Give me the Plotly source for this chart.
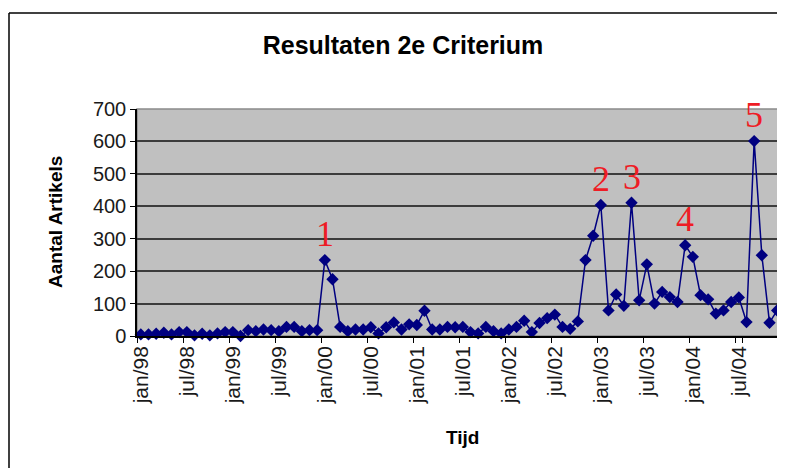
import plotly.graph_objects as go

# ---- data ----
months = ["jan", "feb", "mrt", "apr", "mei", "jun", "jul", "aug", "sep", "okt", "nov", "dec"]
years = ["98", "99", "00", "01", "02", "03", "04"]
categories = [f"{m}/{y}" for y in years for m in months]

values = [
    5, 5, 7, 10, 5, 12, 12, 2, 7, 2, 8, 12,            # 1998
    12, 0, 18, 15, 20, 18, 15, 28, 28, 15, 18, 18,     # 1999
    234, 175, 28, 15, 20, 20, 27, 8, 27, 42, 20, 36,   # 2000
    34, 78, 20, 20, 28, 27, 28, 12, 8, 28, 15, 8,      # 2001
    20, 28, 47, 12, 40, 55, 66, 28, 22, 45, 234, 309,  # 2002
    404, 79, 128, 93, 411, 110, 221, 100, 136, 120, 105, 280,  # 2003
    244, 126, 113, 69, 79, 105, 119, 43, 601, 249, 41, 79,     # 2004
]

tick_labels = [c for c in categories if c.startswith(("jan/", "jul/"))]

peak_labels = ["1", "2", "3", "4", "5"]
peak_months = ["jan/00", "jan/03", "mei/03", "dec/03", "sep/04"]
peak_values = [values[categories.index(m)] for m in peak_months]

title_text = "Resultaten 2e Criterium"
x_title = "Tijd"
y_title = "Aantal Artikels"

# ---- figure ----
OFF = 8                      # page body margin in the browser
W, H = 785 - OFF, 468 - OFF
L, R, T, B = 129, 4, 101, 132
pw, ph = W - L - R, H - T - B

def px_x(px):
    return (px - OFF - L) / pw

def px_y(py):
    return (H - B - (py - OFF)) / ph

fig = go.Figure()
fig.add_trace(go.Scatter(
    x=categories, y=values, mode="lines+markers",
    line=dict(color="#000080", width=1.5),
    marker=dict(symbol="diamond", size=9.5, color="#000080"),
    hoverinfo="x+y", cliponaxis=False,
))

annotations = []
for lab, m, v in zip(peak_labels, peak_months, peak_values):
    annotations.append(dict(
        x=m, y=v, xref="x", yref="y", text=lab, showarrow=False,
        yanchor="bottom", xanchor="center", yshift=4,
        font=dict(family="Liberation Serif, Times New Roman, serif", size=36, color="#ee1c25"),
    ))

annotations.append(dict(
    x=px_x(55), y=px_y(222), xref="paper", yref="paper", text=y_title,
    showarrow=False, textangle=-90, xanchor="center", yanchor="middle",
    font=dict(family="Liberation Sans, Arial, sans-serif", size=19, color="#000000", weight="bold"),
))
annotations.append(dict(
    x=px_x(462), y=px_y(437), xref="paper", yref="paper", text=x_title,
    showarrow=False, xanchor="center", yanchor="middle",
    font=dict(family="Liberation Sans, Arial, sans-serif", size=19, color="#000000", weight="bold"),
))

border = dict(color="#000000", width=1.5)
shapes = [
    # outer chart border: top and left edges (others fall outside the picture)
    dict(type="line", xref="paper", yref="paper",
         x0=px_x(9), x1=px_x(1000), y0=px_y(13), y1=px_y(13), line=border, layer="below"),
    dict(type="line", xref="paper", yref="paper",
         x0=px_x(9), x1=px_x(9), y0=px_y(13), y1=px_y(600), line=border, layer="below"),
    # plot-area frame
    dict(type="rect", xref="paper", yref="paper", x0=0, x1=1, y0=0, y1=1,
         line=dict(color="#8a8a8a", width=1.5), fillcolor="rgba(0,0,0,0)", layer="below"),
]

fig.update_layout(
    width=W, height=H, autosize=False,
    margin=dict(l=L, r=R, t=T, b=B, pad=0),
    paper_bgcolor="#ffffff", plot_bgcolor="#c0c0c0",
    showlegend=False,
    title=dict(text=title_text, x=(403 - OFF) / W, y=1 - (45 - OFF) / H,
               xanchor="center", yanchor="middle", xref="container", yref="container",
               font=dict(family="Liberation Sans, Arial, sans-serif", size=25, color="#000000", weight="bold")),
    font=dict(family="Liberation Sans, Arial, sans-serif", color="#000000"),
    annotations=annotations,
    shapes=shapes,
)

fig.update_xaxes(
    type="category", categoryorder="array", categoryarray=categories,
    tickmode="array", tickvals=tick_labels, ticktext=tick_labels,
    tickangle=-90, ticks="outside", ticklen=5, tickcolor="#000000", tickson="boundaries",
    showgrid=False, showline=True, linecolor="#000000", linewidth=1.5,
    tickfont=dict(size=21, color="#1a1a1a"), range=[-0.5, len(categories) - 0.5],
)
fig.update_yaxes(
    range=[0, 700], dtick=100, tick0=0,
    showgrid=True, gridcolor="#3c3c3c", gridwidth=1.5, zeroline=False,
    ticks="outside", ticklen=5, tickcolor="#000000",
    showline=True, linecolor="#000000", linewidth=1.5,
    tickfont=dict(size=20, color="#1a1a1a"),
)

fig.write_html("out.html")
